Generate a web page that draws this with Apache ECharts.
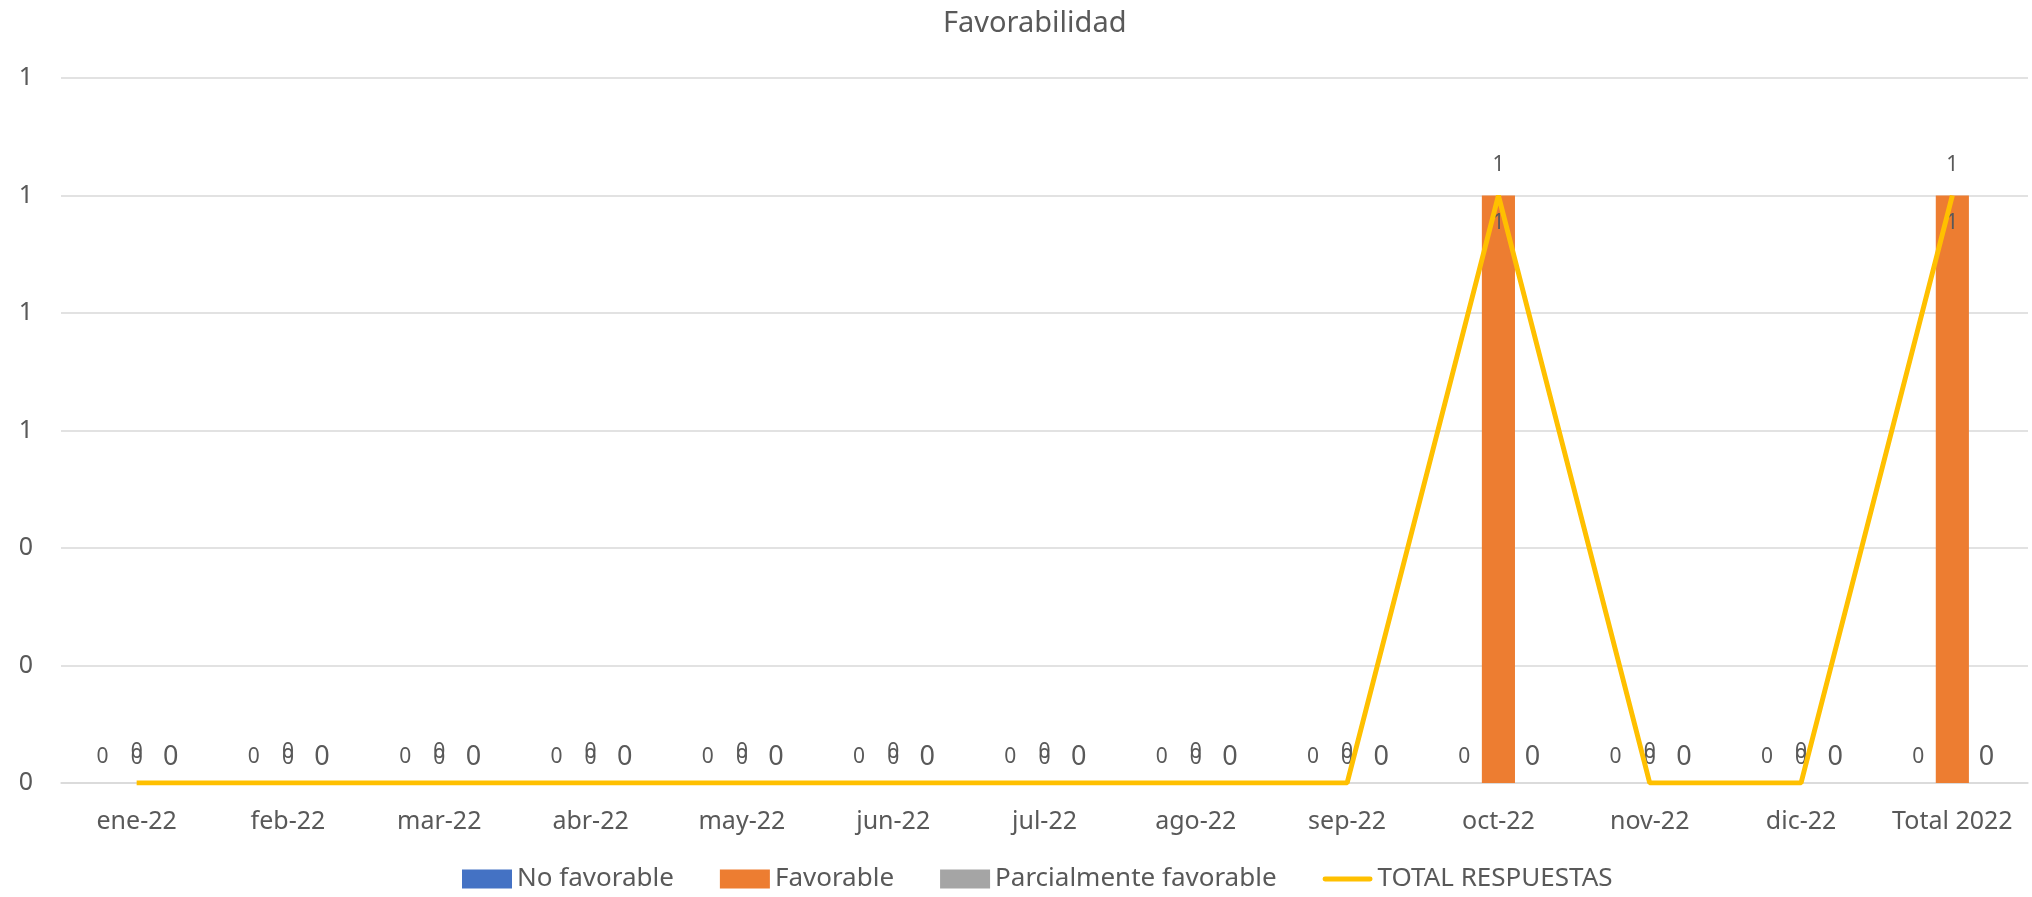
<!DOCTYPE html>
<html><head><meta charset="utf-8">
<script src="https://cdn.jsdelivr.net/npm/echarts@6/dist/echarts.min.js"></script>
<style>html,body{margin:0;padding:0;background:#fff}#c{width:2032px;height:897px}</style>
</head><body><div id="c"></div>
<script>
const categories = ['ene-22','feb-22','mar-22','abr-22','may-22','jun-22','jul-22','ago-22','sep-22','oct-22','nov-22','dic-22','Total 2022'];
const noFavorable = [0,0,0,0,0,0,0,0,0,0,0,0,0];
const favorable = [0,0,0,0,0,0,0,0,0,1,0,0,1];
const parcialmente = [0,0,0,0,0,0,0,0,0,0,0,0,0];
const totalRespuestas = [0,0,0,0,0,0,0,0,0,1,0,0,1];

const FONT = 'Noto Sans';
const TXT = '#595959';
const chart = echarts.init(document.getElementById('c'));
const fmt = p => String(Math.round(p.value));
chart.setOption({
  animation: false,
  textStyle: {fontFamily: FONT, color: TXT},
  title: {text: 'Favorabilidad', left: 938, top: 4,
    textStyle: {fontFamily: FONT, fontSize: 29, fontWeight: 'normal', color: TXT}},
  grid: {left: 61, right: 4, top: 78, bottom: 114, containLabel: false},
  legend: {bottom: 0, left: 457, itemWidth: 50, itemHeight: 19, itemGap: 46,
    textStyle: {fontFamily: FONT, fontSize: 26, color: TXT},
    data: [
      {name: 'No favorable', icon: 'rect'},
      {name: 'Favorable', icon: 'rect'},
      {name: 'Parcialmente favorable', icon: 'rect'},
      {name: 'TOTAL RESPUESTAS', icon: 'path://M2,0 H48 A2,2 0 0 1 48,5 H2 A2,2 0 0 1 2,0 Z'}
    ]},
  xAxis: {type: 'category', data: categories,
    axisLine: {lineStyle: {color: '#D9D9D9', width: 1.5}}, axisTick: {show: false},
    axisLabel: {fontFamily: FONT, fontSize: 25, color: TXT, margin: 26, interval: 0}},
  yAxis: {type: 'value', min: 0, max: 1.2, interval: 0.2,
    axisLine: {show: false}, axisTick: {show: false},
    splitLine: {lineStyle: {color: '#D9D9D9', width: 1.5}},
    axisLabel: {fontFamily: FONT, fontSize: 25, color: TXT, margin: 28,
      formatter: v => String(Math.round(v))}},
  series: [
    {name: 'No favorable', type: 'bar', data: noFavorable, barGap: '3%', barCategoryGap: '33%',
      itemStyle: {color: '#4472C4'},
      label: {show: true, position: 'top', distance: 15, fontSize: 21, color: TXT, formatter: fmt}},
    {name: 'Favorable', type: 'bar', itemStyle: {color: '#ED7D31'},
      data: favorable.map(v => ({value: v, label: v > 0
        ? {position: 'insideTop', distance: 17}
        : {position: 'top', distance: 14}})),
      label: {show: true, fontSize: 21, color: TXT, formatter: fmt}},
    {name: 'Parcialmente favorable', type: 'bar', data: parcialmente, itemStyle: {color: '#A5A5A5'},
      label: {show: true, position: 'top', distance: 12, fontSize: 27, color: TXT, formatter: fmt}},
    {name: 'TOTAL RESPUESTAS', type: 'line', data: totalRespuestas, z: 5,
      symbol: 'circle', symbolSize: 0.1, showSymbol: true,
      lineStyle: {color: '#FFC000', width: 5}, itemStyle: {color: '#FFC000'},
      labelLayout: {hideOverlap: false},
      label: {show: true, position: 'top', distance: 20, fontSize: 21, color: TXT, formatter: fmt}}
  ]
});
</script></body></html>
